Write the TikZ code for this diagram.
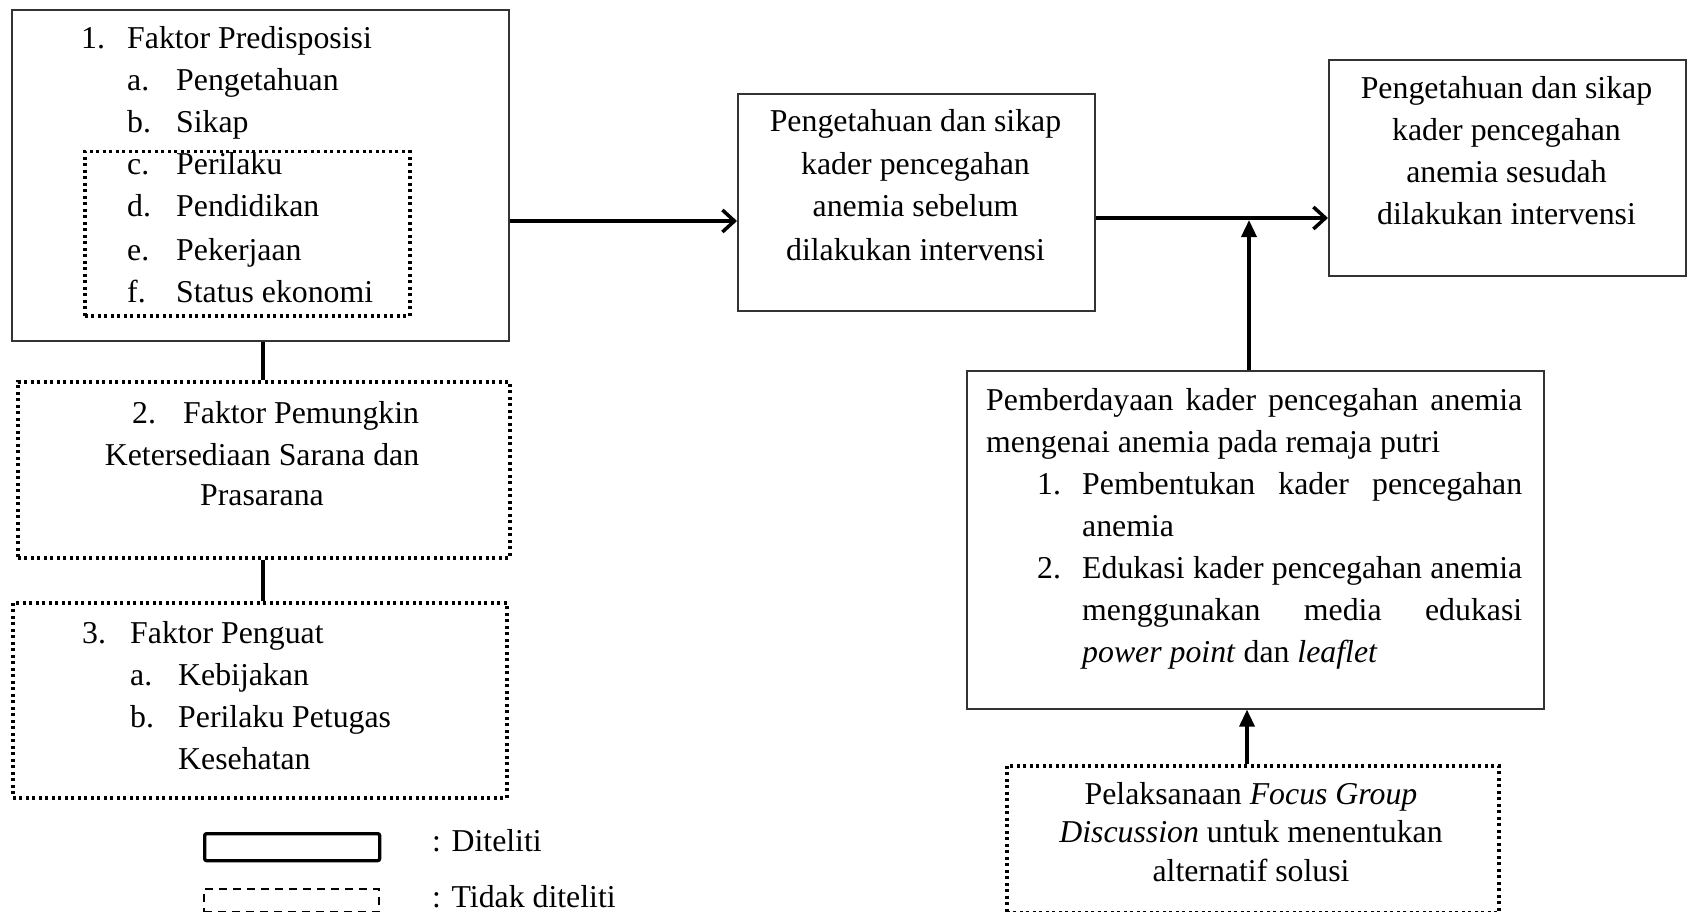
\documentclass[tikz,border=0pt]{standalone}
\usepackage{fontspec}
\setmainfont{Liberation Serif}
\usetikzlibrary{arrows.meta}
\begin{document}
\begin{tikzpicture}[x=1pt,y=-1pt,
  every node/.style={font=\fontsize{31.8}{42}\selectfont, inner sep=0pt},
  solidbox/.style={draw=black!80, line width=1.6pt, rectangle, anchor=north west},
  dotbox/.style={draw=black, line width=3.5pt, dash pattern=on 3pt off 3.5pt, rectangle, anchor=north west},
  txt/.style={anchor=base west},
  ctxt/.style={anchor=base},
  harrow/.style={line width=3.5pt, -{Straight Barb[length=12pt,width=22pt,line width=3.5pt]}},
  varrow/.style={line width=3.5pt, -{Triangle[length=17pt,width=15pt]}},
  link/.style={line width=4pt}
]
\useasboundingbox (0,0) rectangle (1694,912);

% Box 1
\node[solidbox, minimum width=497pt, minimum height=331pt] (b1) at (11,9) {};
\node[dotbox, minimum width=325pt, minimum height=164pt] (b1d) at (83,150) {};
\node[txt] (t1n) at (81,49) {1.};
\node[txt] (t1h) at (127,49) {Faktor Predisposisi};
\node[txt] (t1an) at (127,91) {a.};
\node[txt] (t1a) at (176,91) {Pengetahuan};
\node[txt] (t1bn) at (127,133) {b.};
\node[txt] (t1b) at (176,133) {Sikap};
\node[txt] (t1cn) at (127,175) {c.};
\node[txt] (t1c) at (176,175) {Perilaku};
\node[txt] (t1dn) at (127,217) {d.};
\node[txt] (t1d) at (176,217) {Pendidikan};
\node[txt] (t1en) at (127,260) {e.};
\node[txt] (t1e) at (176,260) {Pekerjaan};
\node[txt] (t1fn) at (127,302) {f.};
\node[txt] (t1f) at (176,302) {Status ekonomi};

% Box 2
\node[dotbox, minimum width=492pt, minimum height=176pt] (b2) at (16,380) {};
\node[txt] (t2n) at (132,423) {2.};
\node[txt] (t2h) at (183,423) {Faktor Pemungkin};
\node[ctxt] (t2a) at (262,465) {Ketersediaan Sarana dan};
\node[ctxt] (t2b) at (262,505) {Prasarana};

% Box 3
\node[dotbox, minimum width=494pt, minimum height=195pt] (b3) at (11,601) {};
\node[txt] (t3n) at (82,643) {3.};
\node[txt] (t3h) at (130,643) {Faktor Penguat};
\node[txt] (t3an) at (130,685) {a.};
\node[txt] (t3a) at (178,685) {Kebijakan};
\node[txt] (t3bn) at (130,727) {b.};
\node[txt] (t3b) at (178,727) {Perilaku Petugas};
\node[txt] (t3c) at (178,769) {Kesehatan};

% Middle box
\node[solidbox, minimum width=357pt, minimum height=217pt] (mid) at (737,93) {};
\node[ctxt] (m1) at (915.5,132) {Pengetahuan dan sikap};
\node[ctxt] (m2) at (915.5,175) {kader pencegahan};
\node[ctxt] (m3) at (915.5,217) {anemia sebelum};
\node[ctxt] (m4) at (915.5,260) {dilakukan intervensi};

% Right box
\node[solidbox, minimum width=357pt, minimum height=216pt] (rb) at (1328,59) {};
\node[ctxt] (r1) at (1506.5,99) {Pengetahuan dan sikap};
\node[ctxt] (r2) at (1506.5,141) {kader pencegahan};
\node[ctxt] (r3) at (1506.5,183) {anemia sesudah};
\node[ctxt] (r4) at (1506.5,225) {dilakukan intervensi};

% Pemberdayaan box
\node[solidbox, minimum width=577pt, minimum height=338pt] (pem) at (966,370) {};
\node[txt] (p1) at (986,410) {\hbox to 536pt{Pemberdayaan\hfill kader\hfill pencegahan\hfill anemia}};
\node[txt] (p2) at (986,452) {mengenai anemia pada remaja putri};
\node[txt] (p3n) at (1037,494) {1.};
\node[txt] (p3) at (1082,494) {\hbox to 440pt{Pembentukan\hfill kader\hfill pencegahan}};
\node[txt] (p4) at (1082,536) {anemia};
\node[txt] (p5n) at (1037,578) {2.};
\node[txt] (p5) at (1082,578) {\hbox to 440pt{Edukasi\hfill kader\hfill pencegahan\hfill anemia}};
\node[txt] (p6) at (1082,620) {\hbox to 440pt{menggunakan\hfill media\hfill edukasi}};
\node[txt] (p7) at (1082,662) {\textit{power point} dan \textit{leaflet}};

% FGD box
\node[dotbox, minimum width=492pt, minimum height=147pt] (fgd) at (1005,764) {};
\node[ctxt] (f1) at (1251,804) {Pelaksanaan \textit{Focus Group}};
\node[ctxt] (f2) at (1251,842) {\textit{Discussion} untuk menentukan};
\node[ctxt] (f3) at (1251,881) {alternatif solusi};

% Legend
\node[draw, line width=3.3pt, rounded corners=2pt, rectangle, anchor=north west, minimum width=175pt, minimum height=27pt] (lg1) at (203,832) {};
\node[draw, line width=1.8pt, dash pattern=on 8pt off 6pt, rectangle, anchor=north west, minimum width=175pt, minimum height=23pt] (lg2) at (203,888) {};
\node[txt] (lt1) at (432,851) {: Diteliti};
\node[txt] (lt2) at (432,907) {: Tidak diteliti};

% Connectors
\coordinate (ya) at (0,221);
\coordinate (yb) at (0,218);
\coordinate (yt) at (0,220);
\coordinate (xv) at (1249,0);
\coordinate (xf) at (1247,0);
\coordinate (xl) at (263,0);
\draw[harrow] (b1.east |- ya) -- (mid.west |- ya);
\draw[harrow] (mid.east |- yb) -- (rb.west |- yb);
\draw[varrow] (xv |- pem.north) -- (xv |- yt);
\draw[varrow] (xf |- fgd.north) -- (xf |- pem.south);
\draw[link] (xl |- b1.south) -- (xl |- b2.north);
\draw[link] (xl |- b2.south) -- (xl |- b3.north);
\end{tikzpicture}
\end{document}
